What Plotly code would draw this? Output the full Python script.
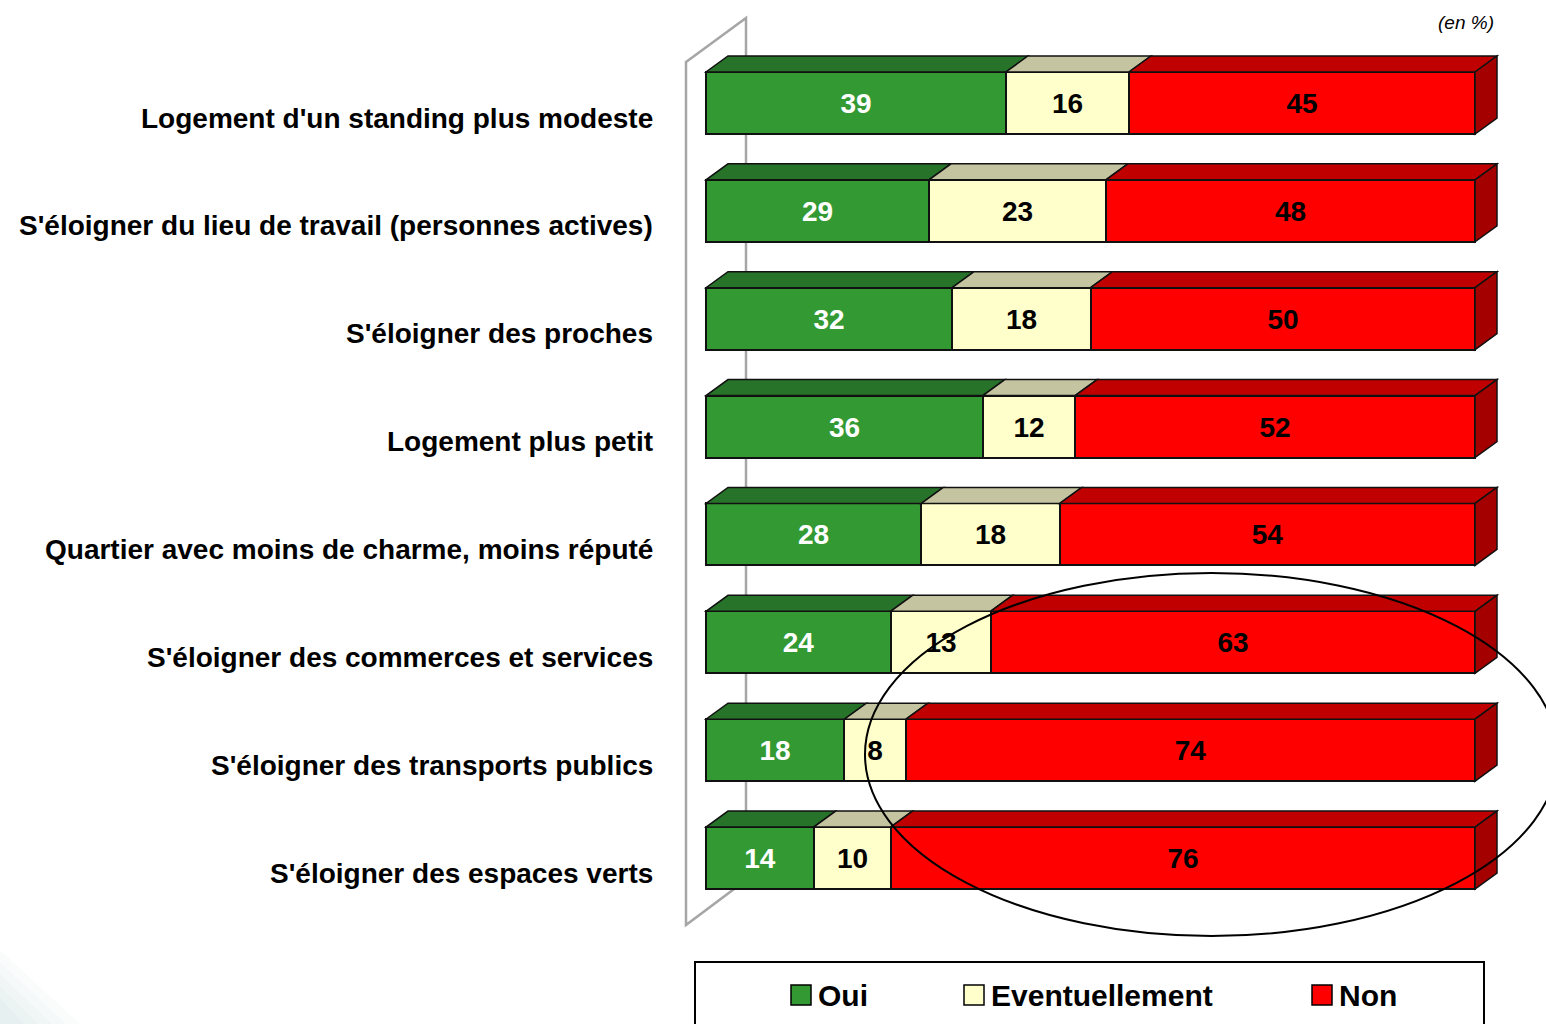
import plotly.graph_objects as go

# ---- data -------------------------------------------------------------
categories = [
    "Logement d'un standing plus modeste",
    "S'éloigner du lieu de travail (personnes actives)",
    "S'éloigner des proches",
    "Logement plus petit",
    "Quartier avec moins de charme, moins réputé",
    "S'éloigner des commerces et services",
    "S'éloigner des transports publics",
    "S'éloigner des espaces verts",
]
oui = [39, 29, 32, 36, 28, 24, 18, 14]
eventuellement = [16, 23, 18, 12, 18, 13, 8, 10]
non = [45, 48, 50, 52, 54, 63, 74, 76]
series_names = ["Oui", "Eventuellement", "Non"]
unit_note = "(en %)"

# ---- styling ----------------------------------------------------------
FONT = "Liberation Sans, Arial, sans-serif"
front_colors = ["#339933", "#FFFFCC", "#FF0000"]
top_colors = ["#27732A", "#C4C4A0", "#C00000"]
side_color = "#A40000"
text_colors = ["white", "black", "black"]

W, H = 1546, 1024
PX_PER_UNIT = 7.69          # horizontal pixels per percentage point
X_ZERO_PX = 706             # pixel position of 0 %
ROW0_PX = 103               # centre of first row
ROW_STEP_PX = 107.86        # distance between rows
BAR_PX = 62                 # bar thickness
DEPTH_X_PX, DEPTH_Y_PX = 22, 16

x_dom_left_px = 664
x_range = [(x_dom_left_px - X_ZERO_PX) / PX_PER_UNIT, (W - X_ZERO_PX) / PX_PER_UNIT]
y_range = [(H - ROW0_PX) / ROW_STEP_PX, (0 - ROW0_PX) / ROW_STEP_PX]
bar_w = BAR_PX / ROW_STEP_PX
dxu = DEPTH_X_PX / PX_PER_UNIT
dyu = DEPTH_Y_PX / ROW_STEP_PX


def px(xp):
    return xp / W


def py(yp):
    return 1 - yp / H


rows = list(range(len(categories)))
series = [oui, eventuellement, non]

fig = go.Figure()
for name, vals, fc, tc in zip(series_names, series, front_colors, text_colors):
    fig.add_trace(go.Bar(
        y=rows, x=vals, orientation="h", name=name, width=bar_w,
        marker=dict(color=fc, line=dict(color="#111111", width=2)),
        text=vals, textposition="inside", insidetextanchor="middle",
        textangle=0, constraintext="none",
        textfont=dict(family=FONT, size=28, color=tc, weight="bold"),
        hoverinfo="skip", showlegend=False,
    ))

shapes = []

# back wall of the 3D frame
wall = (f"M {px(686)},{py(62)} L {px(746)},{py(18)} L {px(746)},{py(880)} "
        f"L {px(686)},{py(925)} Z")
shapes.append(dict(type="path", xref="paper", yref="paper", path=wall,
                   line=dict(color="#A6A6A6", width=2.5), layer="below"))

# top faces and right-hand side faces of each bar
for i in rows:
    yt = i - bar_w / 2
    yb = i + bar_w / 2
    start = 0
    for k, vals in enumerate(series):
        end = start + vals[i]
        path = (f"M {start},{yt} L {end},{yt} L {end + dxu},{yt - dyu} "
                f"L {start + dxu},{yt - dyu} Z")
        shapes.append(dict(type="path", xref="x", yref="y", path=path,
                           fillcolor=top_colors[k],
                           line=dict(color="#111111", width=1.5), layer="above"))
        start = end
    side = (f"M {start},{yt} L {start + dxu},{yt - dyu} L {start + dxu},{yb - dyu} "
            f"L {start},{yb} Z")
    shapes.append(dict(type="path", xref="x", yref="y", path=side,
                       fillcolor=side_color,
                       line=dict(color="#111111", width=1.5), layer="above"))

# highlighting ellipse
shapes.append(dict(type="circle", xref="paper", yref="paper",
                   x0=px(865), x1=px(1558), y0=py(936), y1=py(573),
                   line=dict(color="black", width=2), layer="above"))

# faint teal wash in the lower-left corner
for (a, b, op) in [(950, 80, 0.03), (962, 66, 0.03), (974, 52, 0.03),
                   (986, 38, 0.03), (998, 24, 0.03)]:
    shapes.append(dict(type="path", xref="paper", yref="paper",
                       path=f"M 0,{py(a)} L {px(b)},{py(H)} L 0,{py(H)} Z",
                       fillcolor="#5FAFA8", opacity=op, line=dict(width=0),
                       layer="below"))

# legend frame and swatches
shapes.append(dict(type="rect", xref="paper", yref="paper",
                   x0=px(695), x1=px(1484), y0=py(1040), y1=py(962),
                   line=dict(color="black", width=2), fillcolor="rgba(0,0,0,0)"))

annotations = []
legend_x = [791, 964, 1312]
for name, lx, fc in zip(series_names, legend_x, front_colors):
    shapes.append(dict(type="rect", xref="paper", yref="paper",
                       x0=px(lx), x1=px(lx + 20), y0=py(1005), y1=py(985),
                       fillcolor=fc, line=dict(color="black", width=1.5)))
    annotations.append(dict(xref="paper", yref="paper", x=px(lx + 25), y=py(995),
                            xanchor="left", yanchor="middle", showarrow=False,
                            text=name,
                            font=dict(family=FONT, size=30, color="black",
                                      weight="bold")))

# category labels
for i, cat in zip(rows, categories):
    annotations.append(dict(xref="paper", yref="y", x=px(655), y=i, yshift=-15,
                            xanchor="right", yanchor="middle", showarrow=False,
                            text=cat,
                            font=dict(family=FONT, size=28, color="black",
                                      weight="bold")))

annotations.append(dict(xref="paper", yref="paper", x=px(1496), y=py(22),
                        xanchor="right", yanchor="middle", showarrow=False,
                        text=f"<i>{unit_note}</i>",
                        font=dict(family=FONT, size=19, color="black")))

fig.update_layout(
    width=W, height=H, margin=dict(l=0, r=0, t=0, b=0),
    barmode="stack", bargap=0,
    plot_bgcolor="white", paper_bgcolor="white",
    xaxis=dict(domain=[px(x_dom_left_px), 1], range=x_range, visible=False,
               fixedrange=True),
    yaxis=dict(domain=[0, 1], range=y_range, visible=False, fixedrange=True),
    shapes=shapes, annotations=annotations, showlegend=False,
)

fig.write_html("out.html")
